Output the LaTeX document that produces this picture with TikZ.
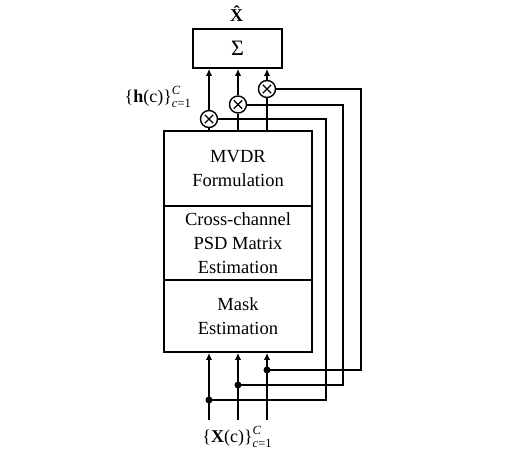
\documentclass[tikz,border=0pt]{standalone}
\usepackage{fontspec}
\setmainfont{Liberation Serif}
\usepackage{tikz}
\usetikzlibrary{positioning, arrows.meta, calc}
\tikzset{
    block/.style={rectangle, draw=black, line width=1.8pt, minimum width=148pt, align=center, inner sep=0pt, font=\fontsize{18.5}{24}\selectfont},
    mult/.style={circle, draw=black, line width=1.4pt, minimum size=17pt, inner sep=0pt, fill=white,
        path picture={\draw[line width=1.3pt] ($(path picture bounding box.center)+(-4.2pt,-4.2pt)$) -- ($(path picture bounding box.center)+(4.2pt,4.2pt)$)
            ($(path picture bounding box.center)+(-4.2pt,4.2pt)$) -- ($(path picture bounding box.center)+(4.2pt,-4.2pt)$);}},
    wire/.style={line width=2pt},
    feed/.style={line width=2pt, -{Latex[length=7pt,width=6.5pt]}},
    lbl/.style={inner sep=0pt, font=\fontsize{18}{20}\selectfont},
}
\newcommand{\chanrange}{\rlap{\raisebox{8pt}{\fontsize{12.5}{12.5}\selectfont\textit{C}}}\raisebox{-4.5pt}{\fontsize{12.5}{12.5}\selectfont\textit{c}=1}}

\begin{document}
\begin{tikzpicture}[x=1pt, y=-1pt]
    \useasboundingbox (0,0) rectangle (518,468);

    % processing stack
    \node[block, minimum height=75pt] (mvdr) at (238,168.5) {MVDR\\Formulation};
    \node[block, minimum height=74pt, below=-1.8pt of mvdr] (psd) {Cross-channel\\PSD Matrix\\Estimation};
    \node[block, minimum height=72pt, below=-1.8pt of psd] (mask) {Mask\\Estimation};

    % summation
    \node[block, minimum width=89pt, minimum height=39pt, font=\fontsize{22}{22}\selectfont] (sum) at (237.5,48.5) {Σ};
    \node[lbl] (xhat) at (238,14) {\textbf{\^{X}}};

    % weighting
    \node[mult] (m1) at (209,119) {};
    \node[mult] (m2) at (238,104.5) {};
    \node[mult] (m3) at (267,89) {};
    \node[lbl, anchor=east] (hlab) at (191,97) {\{\textbf{h}(c)\}\chanrange};

    % inputs
    \coordinate (in1) at (209,420);
    \coordinate (in2) at (238,420);
    \coordinate (in3) at (267,420);
    \coordinate (d1) at (209,400);
    \coordinate (d2) at (238,385);
    \coordinate (d3) at (267,370);
    \node[lbl] (xlab) at (237,437) {\{\textbf{X}(c)\}\chanrange};

    \foreach \i in {1,2,3}{
        \draw[feed] (in\i) -- (in\i |- mask.south);
        \draw[wire] (m\i |- mvdr.north) -- (m\i.south);
        \draw[feed] (m\i.north) -- (m\i |- sum.south);
        \fill (d\i) circle (3.5pt);
    }

    % skip connections
    \draw[wire] (d1) -| (326,119) -- (m1.east);
    \draw[wire] (d2) -| (343,104.5) -- (m2.east);
    \draw[wire] (d3) -| (361,89) -- (m3.east);
\end{tikzpicture}
\end{document}
